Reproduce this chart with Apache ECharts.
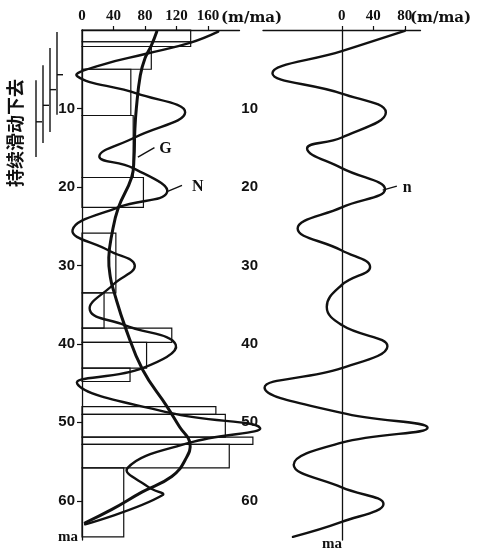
<!DOCTYPE html>
<html><head><meta charset="utf-8">
<script src="https://cdn.jsdelivr.net/npm/echarts@6/dist/echarts.min.js"></script>
<style>html,body{margin:0;padding:0;background:#fff}#c{width:478px;height:551px}</style>
</head><body><div id="c"></div>
<script>
// ---- data (ma = time, rate in m/ma) ----
const xTicksLeft = [0, 40, 80, 120, 160];
const xTicksRight = [0, 40, 80];
const yTicks = [10, 20, 30, 40, 50, 60];

// histogram of rates
const barStart = [0, 1.5, 2.1, 5.0, 10.9, 18.8, 25.9, 33.5, 38.0, 39.8, 43.1, 48.0, 49.0, 51.9, 52.8, 55.8];
const barEnd   = [1.5, 2.1, 5.0, 10.9, 18.8, 22.6, 33.5, 38.0, 39.8, 43.1, 44.8, 49.0, 51.9, 52.8, 55.8, 64.6];
const barRate  = [138, 138, 88, 62, 65, 78, 43, 28, 114, 82, 61, 170, 182, 217, 187, 53];

// curve G (smooth trend)
const gMa   = [0.2, 2.0, 3.6, 5.8, 10.0, 13.0, 16.4, 18.8, 22.7, 26.0, 29.0, 31.5, 33.5, 37.9, 43.3, 48.0, 50.6, 52.6, 54.8, 56.9, 58.9, 61.1, 62.8];
const gRate = [95, 88, 80, 74, 69, 67, 66, 63, 46, 38, 34, 36, 41, 55, 77, 108, 124, 137, 131, 114, 76, 38, 4];

// curve N (oscillating)
const nMa   = [0.2, 1.6, 3.0, 4.5, 5.9, 8.1, 10.5, 13.7, 16.1, 17.6, 20.7, 22.6, 25.5, 28.1, 30.0, 32.5, 35.7, 37.6, 40.1, 43.1, 45.1, 48.8, 50.7, 52.6, 55.8, 58.3, 59.3, 63.0];
const nRate = [173, 138, 83, 23, -6, 70, 131, 67, 22, 65, 108, 46, -12, 34, 67, 39, 10, 54, 119, 77, -6, 112, 226, 137, 58, 85, 102, 4];

// curve n (residual, right panel)
const rMa   = [0.1, 2.7, 5.5, 8.1, 10.5, 13.7, 15.1, 17.6, 20.3, 22.6, 25.3, 28.1, 30.2, 32.5, 35.3, 37.6, 40.3, 43.1, 45.6, 48.8, 50.7, 52.6, 55.4, 58.3, 60.4, 62.7, 64.6];
const rRate = [80, 0, -88, 0, 56, 0, -44, 0, 55, 0, -56, 0, 36, 0, -19, 0, 58, 0, -98, 0, 109, 0, -61, 0, 53, 0, -62];

// sliding intervals shown in the left margin (ma)
const slideStart = [0.25, 2.3, 4.5, 6.4];
const slideEnd   = [10.8, 13.0, 14.4, 16.2];
const slideMark  = [5.7, 7.6, 9.6, 11.7];

const INK = '#111';
const serif = 'Liberation Serif';
const sans = 'Liberation Sans';

const chart = echarts.init(document.getElementById('c'), null, {renderer: 'canvas'});

const axisLineStyle = {color: INK, width: 1.3};
function yAx(g, right) {
  return {
    gridIndex: g, type: 'value', inverse: true, min: 0, max: 65,
    axisLine: {show: true, onZero: !!right, lineStyle: axisLineStyle},
    axisTick: {show: !right, length: 5, customValues: yTicks, lineStyle: {color: INK, width: 1.2}},
    axisLabel: {customValues: yTicks, margin: right ? 5 : 7, color: INK, fontFamily: sans, fontWeight: 'bold', fontSize: 15},
    splitLine: {show: false}
  };
}
function xAx(g, min, max, labels, ticks) {
  return {
    gridIndex: g, type: 'value', position: 'top', min: min, max: max,
    axisLine: {show: true, onZero: false, lineStyle: axisLineStyle},
    axisTick: {show: true, length: 4, customValues: ticks, lineStyle: {color: INK, width: 1.2}},
    axisLabel: {customValues: labels, margin: 6, color: INK, fontFamily: serif, fontWeight: 'bold', fontSize: 15},
    splitLine: {show: false}
  };
}
function curve(xi, rates, mas, w) {
  return {
    type: 'custom', xAxisIndex: xi, yAxisIndex: xi, clip: false, silent: true, z: 3,
    data: [[rates[0], mas[0]]], encode: {x: 0, y: 1},
    renderItem: (params, api) => ({
      type: 'polyline',
      shape: {points: rates.map((r, i) => api.coord([r, mas[i]])), smooth: 0.45},
      style: {fill: 'none', stroke: INK, lineWidth: w, lineJoin: 'round', lineCap: 'round'}
    })
  };
}

chart.setOption({
  animation: false,
  backgroundColor: '#fff',
  grid: [
    {left: 82, top: 30, width: 157.5, height: 510},
    {left: 263, top: 30, width: 157.5, height: 510}
  ],
  xAxis: [
    xAx(0, 0, 200, xTicksLeft, [40, 80, 120, 160]),
    xAx(1, -100, 100, xTicksRight, xTicksRight)
  ],
  yAxis: [yAx(0, false), yAx(1, true)],
  series: [
    {
      type: 'custom', xAxisIndex: 0, yAxisIndex: 0, clip: false, silent: true, z: 1,
      data: barStart.map((s, i) => [s, barEnd[i], barRate[i]]),
      encode: {x: 2, y: [0, 1]},
      renderItem: (params, api) => {
        const p0 = api.coord([0, api.value(0)]);
        const p1 = api.coord([api.value(2), api.value(1)]);
        return {type: 'rect', shape: {x: p0[0], y: p0[1], width: p1[0] - p0[0], height: p1[1] - p0[1]},
          style: {fill: 'rgba(0,0,0,0)', stroke: INK, lineWidth: 1.2}};
      }
    },
    {
      type: 'custom', xAxisIndex: 0, yAxisIndex: 0, clip: false, silent: true, z: 1,
      data: slideStart.map((s, i) => [s, slideEnd[i], slideMark[i], 0]),
      encode: {x: 3, y: [0, 1, 2]},
      renderItem: (params, api) => {
        const i = params.dataIndex;
        const a = api.coord([0, api.value(0)]);
        const b = api.coord([0, api.value(1)]);
        const m = api.coord([0, api.value(2)]);
        const x = a[0] - 25 - 7 * i;
        return {type: 'group', children: [
          {type: 'line', shape: {x1: x, y1: a[1], x2: x, y2: b[1]}, style: {stroke: INK, lineWidth: 1.4}},
          {type: 'line', shape: {x1: x, y1: m[1], x2: x + 6, y2: m[1]}, style: {stroke: INK, lineWidth: 1.4}}
        ]};
      }
    },
    curve(0, nRate, nMa, 2.4),
    curve(0, gRate, gMa, 3),
    curve(1, rRate, rMa, 2.4)
  ]
});

const P = (g, v, t) => chart.convertToPixel({gridIndex: g}, [v, t]);
function leader(g, a, b) {
  const p = P(g, a[0], a[1]), q = P(g, b[0], b[1]);
  return {type: 'line', shape: {x1: p[0], y1: p[1], x2: q[0], y2: q[1]}, style: {stroke: INK, lineWidth: 1.4}, z: 10};
}
function txt(g, v, t, s, font, align) {
  const p = P(g, v, t);
  return {type: 'text', x: p[0], y: p[1], z: 10,
    style: {text: s, font: font, fill: INK, align: align || 'center', verticalAlign: 'middle'}};
}
const lblFont = 'bold 16px "Liberation Serif"';
const unitFont = 'bold 15px "DejaVu Serif"';
chart.setOption({
  graphic: [
    leader(0, [71, 16.2], [92, 15.0]),
    txt(0, 106, 15.2, 'G', lblFont),
    leader(0, [108, 20.6], [127, 19.8]),
    txt(0, 147, 20.0, 'N', lblFont),
    leader(1, [52, 20.4], [70, 19.9]),
    txt(1, 83, 20.1, 'n', lblFont),
    {type: 'text', x: 221, y: 18, z: 10, style: {text: '(m/ma)', font: unitFont, fill: INK, align: 'left', verticalAlign: 'middle'}},
    {type: 'text', x: 410, y: 18, z: 10, style: {text: '(m/ma)', font: unitFont, fill: INK, align: 'left', verticalAlign: 'middle'}},
    {type: 'text', x: 68, y: 537, z: 10, style: {text: 'ma', font: 'bold 15px "Liberation Serif"', fill: INK, align: 'center', verticalAlign: 'middle'}},
    {type: 'text', x: 332, y: 544, z: 10, style: {text: 'ma', font: 'bold 15px "Liberation Serif"', fill: INK, align: 'center', verticalAlign: 'middle'}},
    {type: 'text', x: 15, y: 133, rotation: Math.PI / 2, z: 10,
      style: {text: '持续滑动下去', font: 'bold 18px "Noto Sans CJK SC"', fill: INK, align: 'center', verticalAlign: 'middle'}}
  ]
});
</script></body></html>
